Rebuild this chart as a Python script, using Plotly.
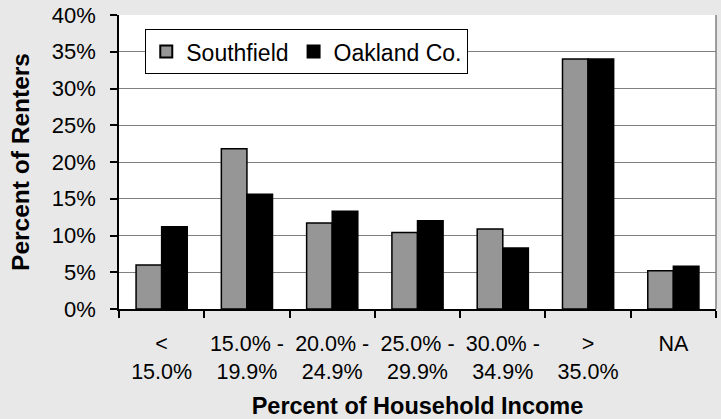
import plotly.graph_objects as go

categories = ["<<br>15.0%", "15.0% -<br>19.9%", "20.0% -<br>24.9%", "25.0% -<br>29.9%",
              "30.0% -<br>34.9%", "><br>35.0%", "NA"]
southfield = [0.060, 0.218, 0.117, 0.104, 0.109, 0.340, 0.052]
oakland = [0.112, 0.156, 0.133, 0.120, 0.083, 0.340, 0.058]
y_ticks = [0, 0.05, 0.10, 0.15, 0.20, 0.25, 0.30, 0.35, 0.40]

font = "Liberation Sans, Arial, sans-serif"

fig = go.Figure()
fig.add_trace(go.Bar(name="Southfield", x=categories, y=southfield,
                     marker=dict(color="#969696", line=dict(color="black", width=1.5))))
fig.add_trace(go.Bar(name="Oakland Co.", x=categories, y=oakland,
                     marker=dict(color="black", line=dict(color="black", width=1.5))))

fig.update_layout(
    width=721, height=419,
    margin=dict(l=119, r=5, t=15, b=110),
    paper_bgcolor="#e8e8e8",
    plot_bgcolor="white",
    barmode="group", bargap=0.4, bargroupgap=0,
    font=dict(family=font, size=22, color="black"),
    showlegend=True,
    legend=dict(orientation="h", x=0.044, y=0.952, xanchor="left", yanchor="top",
                bgcolor="white", bordercolor="black", borderwidth=1,
                font=dict(size=23), itemsizing="constant"),
    xaxis=dict(
        type="category", automargin=False, tickangle=0,
        showline=True, linecolor="black", linewidth=1.5,
        ticks="outside", tickson="boundaries", ticklen=7, tickcolor="black", tickwidth=1.5,
        showgrid=False, ticklabelstandoff=14, tickfont=dict(size=21.5),
        title=dict(text="<b>Percent of Household Income</b>", font=dict(size=23.5), standoff=15),
    ),
    yaxis=dict(
        range=[0, 0.40], tickvals=y_ticks, tickformat=".0%", automargin=False,
        showline=True, linecolor="black", linewidth=1.5,
        ticks="outside", ticklen=7, tickcolor="black", tickwidth=1.5,
        showgrid=True, gridcolor="#808080", gridwidth=1,
        ticklabelstandoff=10, zeroline=False,
        title=dict(text="<b>Percent of Renters</b>", font=dict(size=24.5), standoff=15),
    ),
    shapes=[dict(type="line", xref="paper", yref="paper", x0=1, x1=1, y0=0, y1=1,
                 line=dict(color="#808080", width=1.5))],
)

fig.write_html("out.html")
